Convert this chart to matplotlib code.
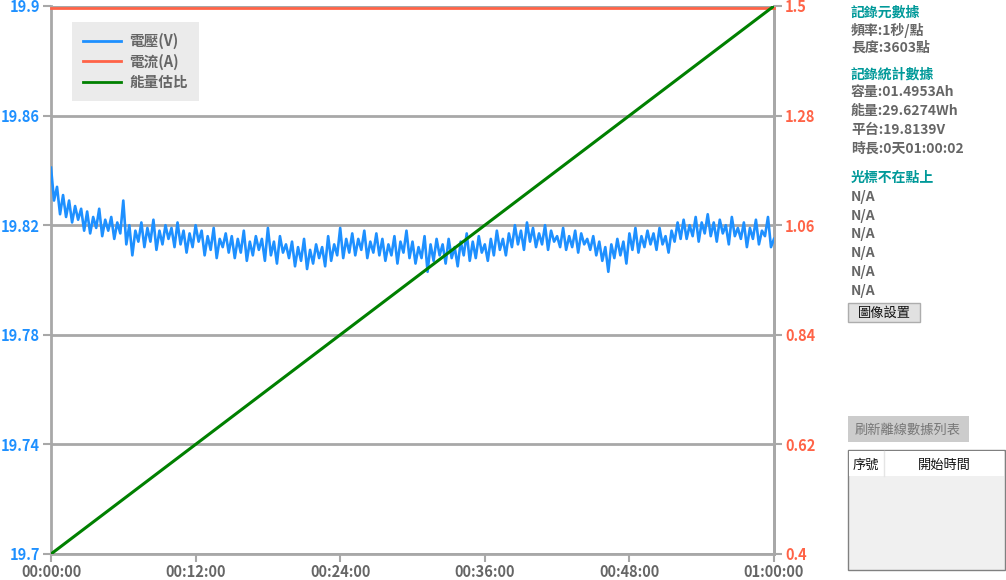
#!/usr/bin/env python3
# -*- coding: utf-8 -*-

import numpy as np
import matplotlib
matplotlib.use("Agg")
import matplotlib.pyplot as plt
from matplotlib.lines import Line2D
from matplotlib.patches import Rectangle

plt.rcParams['font.family'] = ['Noto Sans CJK TC', 'DejaVu Sans']

# ====== DATA ======
sample_step = 15  # sekundy mezi body (výběr z 3603 bodů)
voltage = [
    19.841, 19.829, 19.834, 19.824, 19.831, 19.823, 19.829, 19.821, 19.827, 19.822,
    19.826, 19.818, 19.825, 19.817, 19.823, 19.819, 19.826, 19.816, 19.822, 19.818,
    19.823, 19.815, 19.821, 19.817, 19.829, 19.813, 19.820, 19.809, 19.818, 19.814,
    19.821, 19.812, 19.819, 19.814, 19.822, 19.811, 19.818, 19.813, 19.820, 19.815,
    19.819, 19.812, 19.821, 19.813, 19.818, 19.810, 19.817, 19.812, 19.820, 19.814,
    19.818, 19.809, 19.816, 19.811, 19.819, 19.808, 19.815, 19.812, 19.817, 19.810,
    19.816, 19.808, 19.815, 19.810, 19.818, 19.807, 19.814, 19.809, 19.816, 19.811,
    19.815, 19.807, 19.819, 19.809, 19.814, 19.806, 19.816, 19.810, 19.813, 19.808,
    19.814, 19.805, 19.812, 19.807, 19.815, 19.804, 19.811, 19.806, 19.813, 19.808,
    19.812, 19.805, 19.816, 19.807, 19.813, 19.809, 19.819, 19.808, 19.815, 19.810,
    19.817, 19.809, 19.815, 19.811, 19.818, 19.808, 19.814, 19.810, 19.817, 19.809,
    19.815, 19.807, 19.813, 19.809, 19.816, 19.806, 19.814, 19.810, 19.818, 19.808,
    19.814, 19.806, 19.812, 19.808, 19.816, 19.803, 19.813, 19.807, 19.815, 19.809,
    19.813, 19.806, 19.815, 19.808, 19.812, 19.805, 19.814, 19.809, 19.817, 19.807,
    19.814, 19.808, 19.816, 19.810, 19.813, 19.807, 19.815, 19.809, 19.818, 19.811,
    19.815, 19.809, 19.817, 19.812, 19.820, 19.813, 19.818, 19.811, 19.821, 19.814,
    19.819, 19.812, 19.817, 19.813, 19.820, 19.811, 19.818, 19.814, 19.816, 19.812,
    19.819, 19.811, 19.816, 19.812, 19.818, 19.810, 19.817, 19.813, 19.815, 19.811,
    19.816, 19.809, 19.814, 19.807, 19.812, 19.803, 19.813, 19.808, 19.815, 19.809,
    19.814, 19.806, 19.817, 19.811, 19.819, 19.810, 19.816, 19.812, 19.818, 19.813,
    19.817, 19.811, 19.819, 19.813, 19.816, 19.810, 19.818, 19.814, 19.821, 19.815,
    19.822, 19.815, 19.820, 19.816, 19.823, 19.814, 19.821, 19.817, 19.824, 19.816,
    19.821, 19.814, 19.822, 19.817, 19.820, 19.813, 19.823, 19.816, 19.819, 19.815,
    19.821, 19.812, 19.819, 19.815, 19.822, 19.813, 19.818, 19.816, 19.823, 19.812,
    19.815,
]
current_t = [0, 3600]
current = [1.495, 1.495]
energy_t = [0, 3600]
energy_ratio = [0.0, 1.0]

left_ticks = [19.7, 19.74, 19.78, 19.82, 19.86, 19.9]
right_ticks = [0.4, 0.62, 0.84, 1.06, 1.28, 1.5]
x_ticks = [0, 720, 1440, 2160, 2880, 3600]
x_labels = ["00:00:00", "00:12:00", "00:24:00", "00:36:00", "00:48:00", "01:00:00"]

info_lines = [
    ("記錄元數據", "h"), ("頻率:1秒/點", "v"), ("長度:3603點", "v"),
    ("記錄統計數據", "h"), ("容量:01.4953Ah", "v"), ("能量:29.6274Wh", "v"),
    ("平台:19.8139V", "v"), ("時長:0天01:00:02", "v"),
    ("光標不在點上", "h"), ("N/A", "v"), ("N/A", "v"), ("N/A", "v"),
    ("N/A", "v"), ("N/A", "v"), ("N/A", "v"),
]
info_y = [13, 31, 48, 75, 92, 111, 130, 149, 178, 197, 216, 234, 253, 272, 291]

# ====== BARVY ======
C_BLUE = "#1e90ff"
C_RED = "#ff6347"
C_GREEN = "#008000"
C_AXIS = "#a8a8a8"
C_TEXT = "#666666"
C_HEAD = "#009999"

W, H = 1006, 580
fig = plt.figure(figsize=(W / 100, H / 100), dpi=100)

def fx(px):
    return px / W

def fy(py):
    return 1 - py / H

ax = fig.add_axes([fx(51), fy(554), fx(774) - fx(51), fy(6) - fy(554)])
t = np.arange(len(voltage)) * sample_step
ax.plot(t, voltage, color=C_BLUE, linewidth=1.9, zorder=3)
ax.set_xlim(0, 3600)
ax.set_ylim(19.7, 19.9)
ax.set_yticks(left_ticks)
ax.set_yticklabels([f"{v:g}" for v in left_ticks])
ax.set_xticks(x_ticks)
ax.set_xticklabels(x_labels)
ax.grid(axis="y", color=C_AXIS, linewidth=2)
ax.set_axisbelow(True)
for s in ax.spines.values():
    s.set_color(C_AXIS)
    s.set_linewidth(2)
ax.spines["top"].set_visible(False)
ax.tick_params(axis="y", colors=C_AXIS, length=6, width=1.5, labelcolor=C_BLUE,
               labelsize=10.5, pad=2)
ax.tick_params(axis="x", colors=C_AXIS, length=6, width=1.5, labelcolor=C_TEXT,
               labelsize=10.5, pad=1)
for lab in ax.get_yticklabels() + ax.get_xticklabels():
    lab.set_fontweight("bold")

ax2 = ax.twinx()
ax2.plot(current_t, current, color=C_RED, linewidth=2, zorder=3, clip_on=False)
ax2.set_ylim(0.4, 1.5)
ax2.set_yticks(right_ticks)
ax2.set_yticklabels([f"{v:g}" for v in right_ticks])
for s in ax2.spines.values():
    s.set_visible(False)
ax2.tick_params(axis="y", colors=C_AXIS, length=6, width=1.5, labelcolor=C_RED,
                labelsize=10.5, pad=2)
for lab in ax2.get_yticklabels():
    lab.set_fontweight("bold")

ax3 = ax.twinx()
ax3.plot(energy_t, energy_ratio, color=C_GREEN, linewidth=2.2, zorder=4)
ax3.set_ylim(0, 1)
ax3.axis("off")

# pravý okraj grafu
ax.plot([1, 1], [0, 1], transform=ax.transAxes, color=C_AXIS, linewidth=2, clip_on=False)

# legenda
handles = [Line2D([], [], color=C_BLUE, linewidth=2),
           Line2D([], [], color=C_RED, linewidth=2),
           Line2D([], [], color=C_GREEN, linewidth=2)]
leg = fig.legend(handles, ["電壓(V)", "電流(A)", "能量估比"],
                 loc="upper left", bbox_to_anchor=(fx(72), fy(22)),
                 frameon=True, fancybox=False, facecolor="#ebebeb", edgecolor="none",
                 framealpha=1, fontsize=10.5, handlelength=2.6, labelspacing=0.3,
                 borderpad=0.75, handletextpad=0.6, borderaxespad=0)
leg.get_frame().set_boxstyle("square", pad=0)
for txt in leg.get_texts():
    txt.set_color(C_TEXT)
    txt.set_fontweight("bold")

# pravý panel
for (s, kind), y in zip(info_lines, info_y):
    fig.text(fx(851), fy(y), s, ha="left", va="center", fontsize=10, fontweight="bold",
             color=C_HEAD if kind == "h" else C_TEXT)

# tlačítko 圖像設置
fig.patches.append(Rectangle((fx(848), fy(322)), fx(920) - fx(848), fy(303) - fy(322),
                             transform=fig.transFigure, facecolor="#e1e1e1",
                             edgecolor="#adadad", linewidth=1))
fig.text(fx(884), fy(313), "圖像設置", ha="center", va="center", fontsize=9.5,
         color="#111111")

# tlačítko 刷新離線數據列表
fig.patches.append(Rectangle((fx(848), fy(442)), fx(969) - fx(848), fy(416) - fy(442),
                             transform=fig.transFigure, facecolor="#cccccc",
                             edgecolor="none"))
fig.text(fx(908), fy(430), "刷新離線數據列表", ha="center", va="center", fontsize=9.5,
         color="#777777")

# tabulka
fig.patches.append(Rectangle((fx(848), fy(570)), fx(1005) - fx(848), fy(450) - fy(570),
                             transform=fig.transFigure, facecolor="#f0f0f0",
                             edgecolor="#808080", linewidth=1))
fig.patches.append(Rectangle((fx(849), fy(476)), fx(1004) - fx(849), fy(451) - fy(476),
                             transform=fig.transFigure, facecolor="white",
                             edgecolor="none"))
fig.lines.append(Line2D([fx(884), fx(884)], [fy(451), fy(476)], transform=fig.transFigure,
                        color="#e5e5e5", linewidth=1))
fig.text(fx(866), fy(465), "序號", ha="center", va="center", fontsize=9.5, color="#111111")
fig.text(fx(944), fy(465), "開始時間", ha="center", va="center", fontsize=9.5,
         color="#111111")

fig.savefig("out.png", dpi=100)
plt.close(fig)
